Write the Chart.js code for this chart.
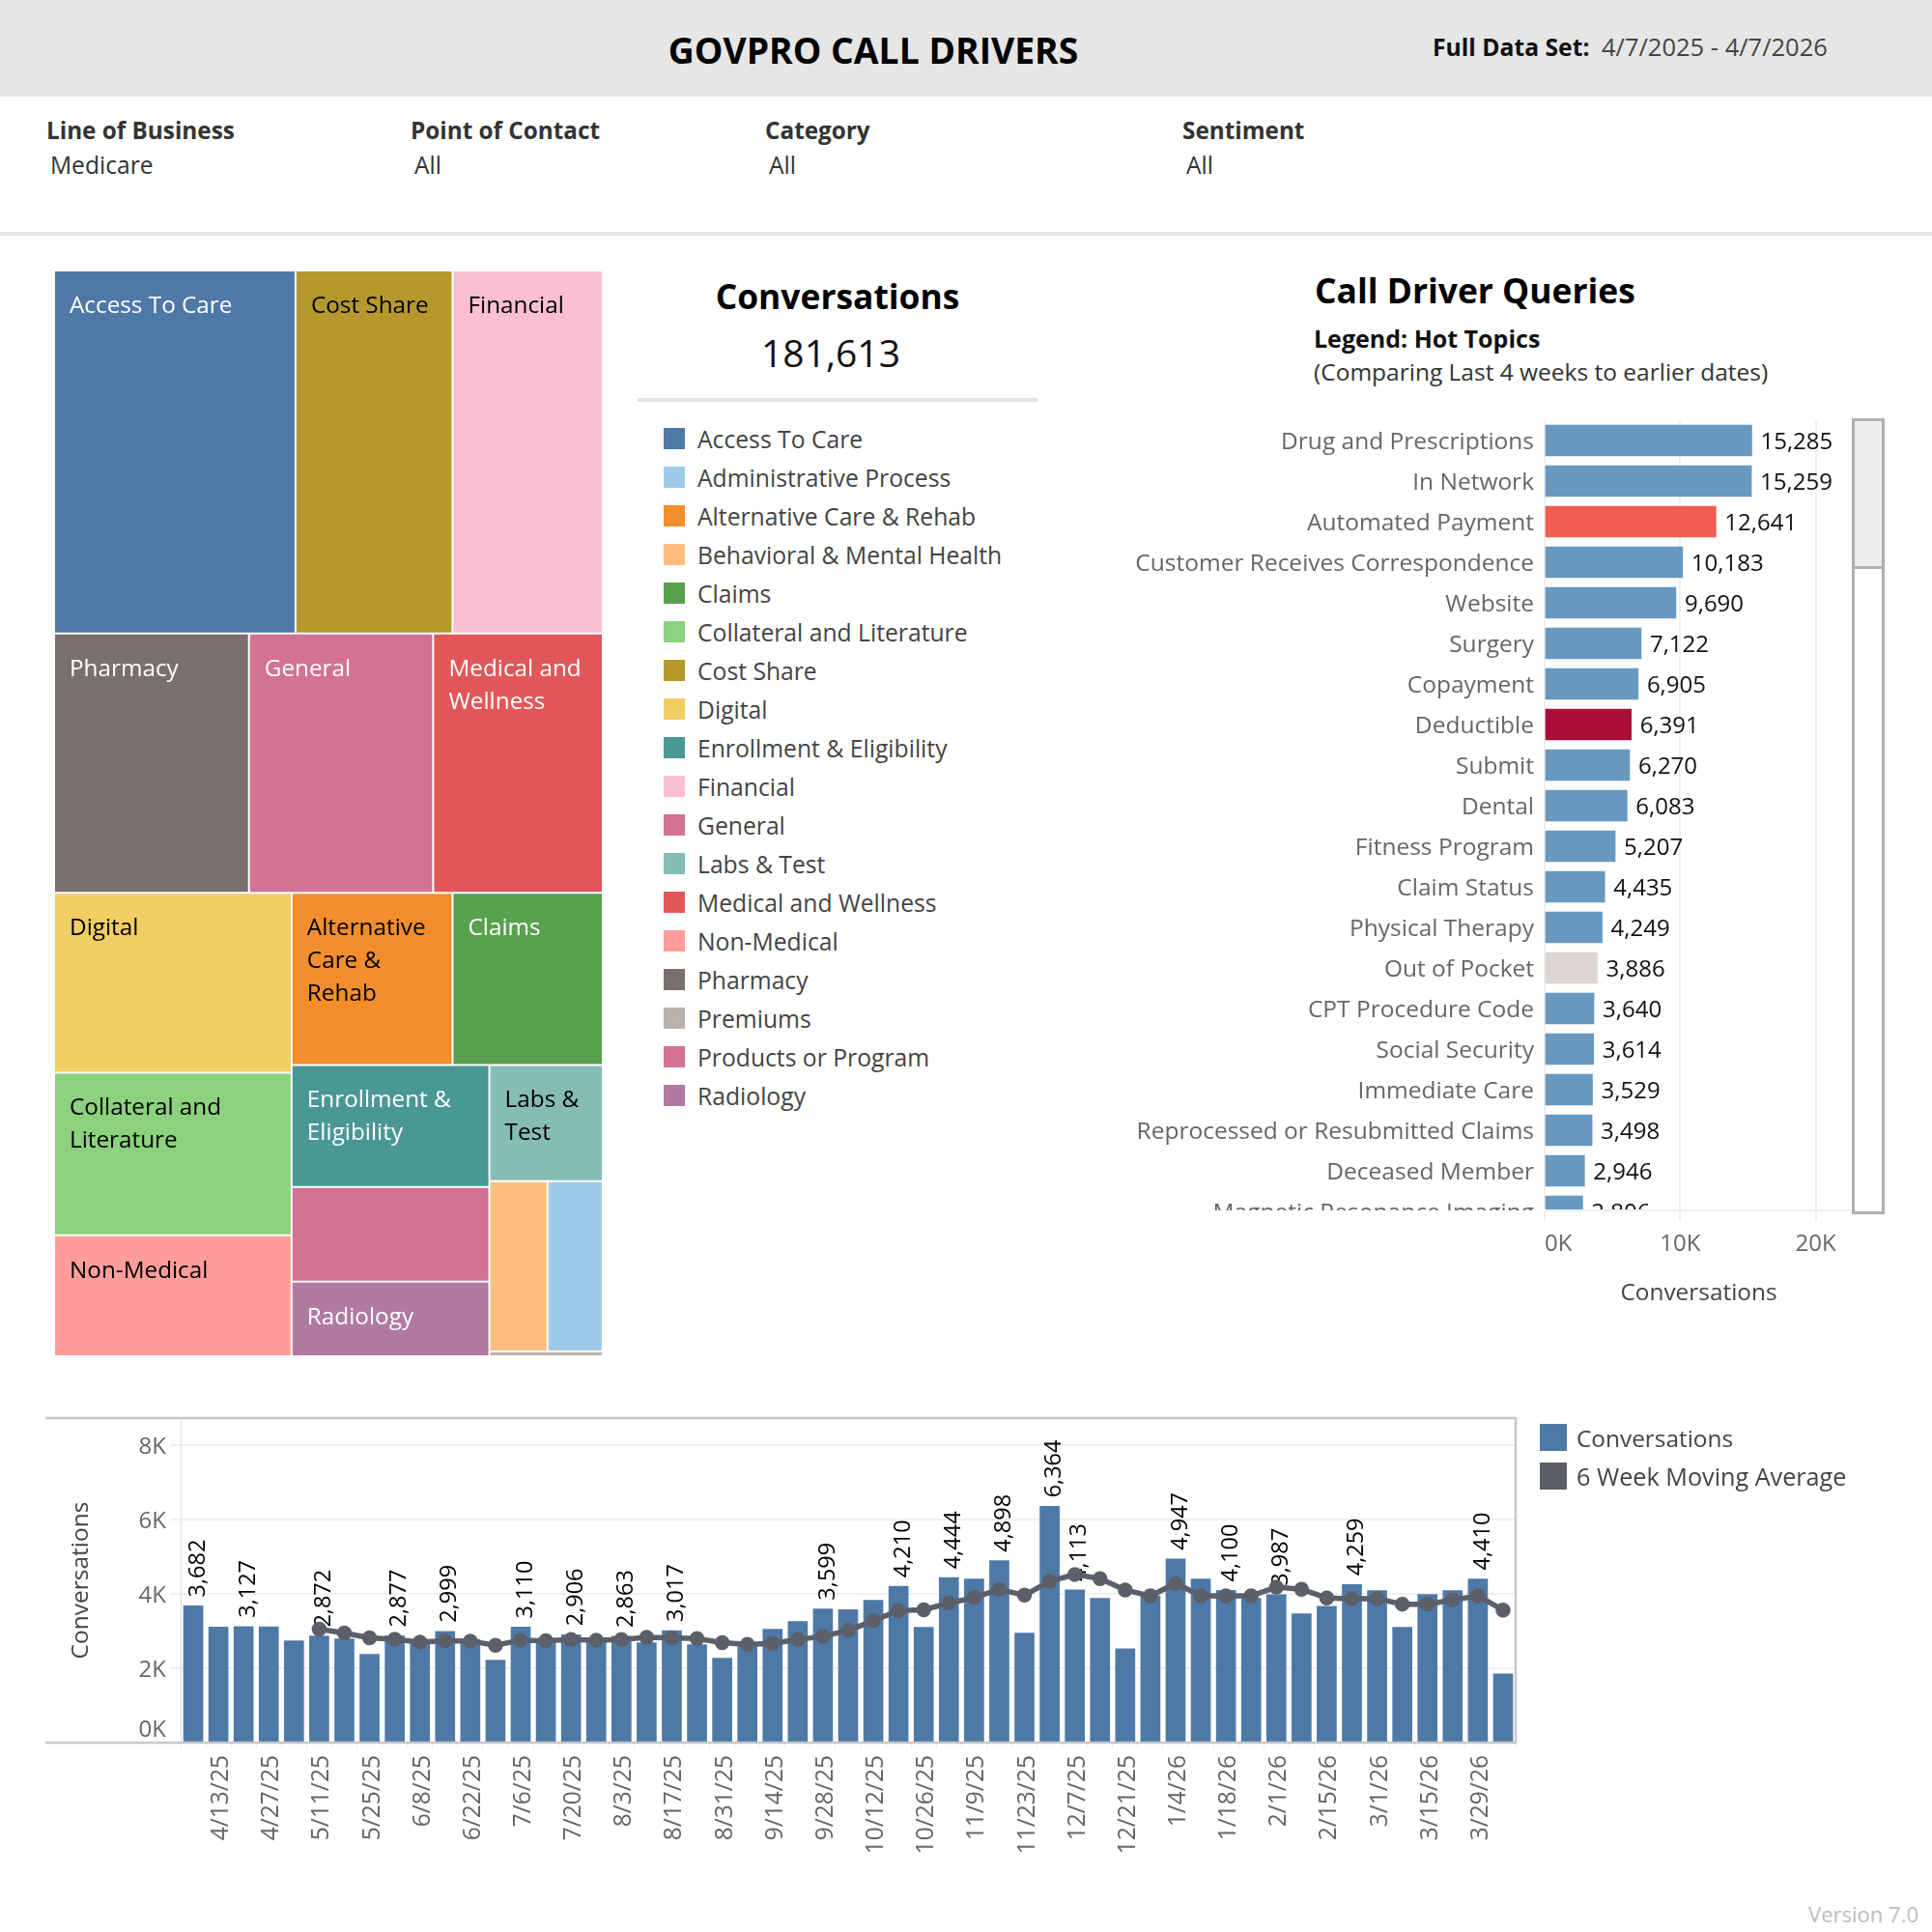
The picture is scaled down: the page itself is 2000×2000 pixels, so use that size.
<!DOCTYPE html>
<html>
<head>
<meta charset="utf-8">
<title>GovPro Call Drivers</title>
<script src="https://cdn.jsdelivr.net/npm/chart.js@4"></script>
<style>
    html, body { margin: 0; padding: 0; background: #fff; }
    body { width: 2000px; height: 2000px; position: relative; overflow: hidden; font-family: "Open Sans", sans-serif; }
    .t { position: absolute; white-space: nowrap; line-height: 1; transform: translateY(-50%); color: #333; }
    .b { font-weight: 700; }
    .box { position: absolute; }
    canvas { position: absolute; display: block; }
</style>
</head>
<body>
<div class="box" style="left:0;top:0;width:2000px;height:100px;background:#e6e6e6"></div>
<div class="t b" style="left:904px;top:52px;font-size:37.3px;color:#000;transform:translate(-50%,-50%)">GOVPRO CALL DRIVERS</div>
<div class="t b" style="left:1483px;top:49px;font-size:24.7px;color:#111">Full Data Set:</div>
<div class="t" style="left:1658px;top:49px;font-size:25.5px;color:#444">4/7/2025 - 4/7/2026</div>

<div class="t b" style="left:48px;top:135px;font-size:24.3px">Line of Business</div>
<div class="t" style="left:52px;top:171px;font-size:24.6px">Medicare</div>
<div class="t b" style="left:425px;top:135px;font-size:24.3px">Point of Contact</div>
<div class="t" style="left:429px;top:171px;font-size:24.6px">All</div>
<div class="t b" style="left:792px;top:135px;font-size:24.3px">Category</div>
<div class="t" style="left:796px;top:171px;font-size:24.6px">All</div>
<div class="t b" style="left:1224px;top:135px;font-size:24.3px">Sentiment</div>
<div class="t" style="left:1228px;top:171px;font-size:24.6px">All</div>
<div class="box" style="left:0;top:240px;width:2000px;height:4px;background:#e6e6e6"></div>

<div class="t b" style="left:867px;top:307px;font-size:35.4px;color:#000;transform:translate(-50%,-50%)">Conversations</div>
<div class="t" style="left:860px;top:364px;font-size:39px;color:#111;transform:translate(-50%,-50%)">181,613</div>
<div class="box" style="left:660px;top:412px;width:414px;height:4px;background:#e2e2e2"></div>
<div id="treeLegend"></div>

<div class="t b" style="left:1361px;top:301px;font-size:35.4px;color:#000">Call Driver Queries</div>
<div class="t b" style="left:1360px;top:350px;font-size:25px;color:#111">Legend: Hot Topics</div>
<div class="t" style="left:1360px;top:385px;font-size:24.5px">(Comparing Last 4 weeks to earlier dates)</div>

<canvas id="treeChart" style="left:56px;top:280px"></canvas>

<div class="box" style="left:1150px;top:435px;width:767px;height:818px;overflow:hidden">
    <canvas id="queryChart" style="left:0;top:0"></canvas>
</div>
<canvas id="queryAxis" style="left:1150px;top:1253px"></canvas>
<div class="box" style="left:1599px;top:1252px;width:318px;height:2px;background:#eeeeee"></div>
<div class="box" style="left:1917px;top:433px;width:28px;height:818px;border:3px solid #b0b0b0"></div>
<div class="box" style="left:1920px;top:436px;width:28px;height:150px;background:#eeeeee;border-bottom:3px solid #b0b0b0"></div>

<canvas id="weeklyChart" style="left:0;top:1440px"></canvas>
<div class="box" style="left:1594px;top:1474px;width:28px;height:28px;background:#4e79a7"></div>
<div class="t" style="left:1632px;top:1489px;font-size:24.4px;color:#444">Conversations</div>
<div class="box" style="left:1594px;top:1514px;width:28px;height:28px;background:#5b5f69"></div>
<div class="t" style="left:1632px;top:1529px;font-size:25.2px;color:#444">6 Week Moving Average</div>
<div class="t" style="right:14px;top:1981px;font-size:22px;color:#bdbdbd">Version 7.0</div>

<script>
// ==================== DATA ====================
const categories = ['Access To Care', 'Administrative Process', 'Alternative Care & Rehab', 'Behavioral & Mental Health', 'Claims', 'Collateral and Literature', 'Cost Share', 'Digital', 'Enrollment & Eligibility', 'Financial', 'General', 'Labs & Test', 'Medical and Wellness', 'Non-Medical', 'Pharmacy', 'Premiums', 'Products or Program', 'Radiology'];
const categoryValues = [26706, 2869, 8450, 3020, 7890, 11771, 17373, 13032, 7351, 16623, 14562, 4015, 13412, 8758, 15405, 167, 5717, 4492];
const categoryColors = ['#4e79a7', '#a0cbe8', '#f28e2b', '#ffbe7d', '#59a14f', '#8cd17d', '#b6992d', '#f1ce63', '#499894', '#fabfd2', '#d37295', '#86bcb6', '#e15759', '#ff9d9a', '#79706e', '#bab0ac', '#d37295', '#b07aa1'];

// nested groups, direction flips every level (rows, columns, rows...)
const treeGroups = [
    ['Access To Care', 'Cost Share', 'Financial'],
    ['Pharmacy', 'General', 'Medical and Wellness'],
    [
        ['Digital', 'Collateral and Literature', 'Non-Medical'],
        [
            ['Alternative Care & Rehab', 'Claims'],
            [
                ['Enrollment & Eligibility', 'Products or Program', 'Radiology'],
                ['Labs & Test', ['Behavioral & Mental Health', 'Administrative Process'], 'Premiums']
            ]
        ]
    ]
];
const treeLabelLines = {
    'Access To Care': ['Access To Care'],
    'Cost Share': ['Cost Share'],
    'Financial': ['Financial'],
    'Pharmacy': ['Pharmacy'],
    'General': ['General'],
    'Medical and Wellness': ['Medical and', 'Wellness'],
    'Digital': ['Digital'],
    'Alternative Care & Rehab': ['Alternative', 'Care &', 'Rehab'],
    'Claims': ['Claims'],
    'Collateral and Literature': ['Collateral and', 'Literature'],
    'Enrollment & Eligibility': ['Enrollment &', 'Eligibility'],
    'Labs & Test': ['Labs &', 'Test'],
    'Non-Medical': ['Non-Medical'],
    'Radiology': ['Radiology']
};
const darkTextCells = ['Cost Share', 'Financial', 'Digital', 'Alternative Care & Rehab', 'Collateral and Literature', 'Labs & Test', 'Non-Medical'];

const queryNames = ['Drug and Prescriptions', 'In Network', 'Automated Payment', 'Customer Receives Correspondence', 'Website', 'Surgery', 'Copayment', 'Deductible', 'Submit', 'Dental', 'Fitness Program', 'Claim Status', 'Physical Therapy', 'Out of Pocket', 'CPT Procedure Code', 'Social Security', 'Immediate Care', 'Reprocessed or Resubmitted Claims', 'Deceased Member', 'Magnetic Resonance Imaging'];
const queryValues = [15285, 15259, 12641, 10183, 9690, 7122, 6905, 6391, 6270, 6083, 5207, 4435, 4249, 3886, 3640, 3614, 3529, 3498, 2946, 2806];
const queryColors = ['#6799c1', '#6799c1', '#f25c50', '#6799c1', '#6799c1', '#6799c1', '#6799c1', '#a90e3a', '#6799c1', '#6799c1', '#6799c1', '#6799c1', '#6799c1', '#ddd4d4', '#6799c1', '#6799c1', '#6799c1', '#6799c1', '#6799c1', '#6799c1'];

const weeks = ['4/6/25', '4/13/25', '4/20/25', '4/27/25', '5/4/25', '5/11/25', '5/18/25', '5/25/25', '6/1/25', '6/8/25', '6/15/25', '6/22/25', '6/29/25', '7/6/25', '7/13/25', '7/20/25', '7/27/25', '8/3/25', '8/10/25', '8/17/25', '8/24/25', '8/31/25', '9/7/25', '9/14/25', '9/21/25', '9/28/25', '10/5/25', '10/12/25', '10/19/25', '10/26/25', '11/2/25', '11/9/25', '11/16/25', '11/23/25', '11/30/25', '12/7/25', '12/14/25', '12/21/25', '12/28/25', '1/4/26', '1/11/26', '1/18/26', '1/25/26', '2/1/26', '2/8/26', '2/15/26', '2/22/26', '3/1/26', '3/8/26', '3/15/26', '3/22/26', '3/29/26', '4/5/26'];
const weeklyConversations = [3682, 3110, 3127, 3120, 2743, 2872, 2795, 2378, 2877, 2778, 2999, 2780, 2222, 3110, 2760, 2906, 2760, 2863, 2690, 3017, 2640, 2274, 2600, 3055, 3264, 3599, 3580, 3837, 4210, 3107, 4444, 4408, 4898, 2948, 6364, 4113, 3887, 2530, 3950, 4947, 4408, 4100, 3887, 3987, 3469, 3673, 4259, 4092, 3106, 3990, 4092, 4410, 1851];
const movingAverage = [null, null, null, null, null, 3055, 2951, 2821, 2786, 2708, 2743, 2734, 2621, 2760, 2743, 2778, 2760, 2778, 2838, 2821, 2804, 2691, 2647, 2673, 2778, 2864, 3021, 3281, 3559, 3576, 3758, 3906, 4129, 3971, 4343, 4529, 4417, 4111, 3952, 4287, 3952, 3952, 3952, 4185, 4129, 3897, 3878, 3878, 3729, 3729, 3841, 3952, 3571];
const labelledWeeks = ['4/6/25', '4/20/25', '5/11/25', '6/1/25', '6/15/25', '7/6/25', '7/20/25', '8/3/25', '8/17/25', '9/28/25', '10/19/25', '11/2/25', '11/16/25', '11/30/25', '12/7/25', '1/4/26', '1/18/26', '2/1/26', '2/22/26', '3/29/26'];

// ==================== SHARED ====================
const FONT_FAMILY = '"Open Sans", sans-serif';
Chart.defaults.font.family = FONT_FAMILY;
Chart.defaults.animation = false;
Chart.defaults.responsive = false;
Chart.defaults.devicePixelRatio = 1;
Chart.defaults.plugins.legend.display = false;
Chart.defaults.plugins.tooltip.enabled = false;

function sizeCanvas(id, w, h) {
    const el = document.getElementById(id);
    el.width = w;
    el.height = h;
    return el;
}

function groupTotal(node) {
    if (typeof node === 'string') return categoryValues[categories.indexOf(node)];
    return node.reduce((sum, kid) => sum + groupTotal(kid), 0);
}

// slice the unit square by value, one direction per level
function sliceGroups(node, box, stacked, out) {
    if (typeof node === 'string') {
        out[categories.indexOf(node)] = { x0: box.x0, x1: box.x1, y0: box.y0, y1: box.y1 };
        return;
    }
    const total = groupTotal(node);
    let pos = stacked ? box.y0 : box.x0;
    node.forEach(kid => {
        const span = (stacked ? box.y1 - box.y0 : box.x1 - box.x0) * groupTotal(kid) / total;
        const next = pos + span;
        const kidBox = stacked ? { x0: box.x0, x1: box.x1, y0: pos, y1: next } : { x0: pos, x1: next, y0: box.y0, y1: box.y1 };
        sliceGroups(kid, kidBox, !stacked, out);
        pos = next;
    });
}

// ==================== TREEMAP ====================
class TreeCellController extends Chart.DatasetController {
    update(mode) {
        const meta = this._cachedMeta;
        meta.data.forEach((cell, i) => {
            const box = meta._parsed[i];
            const left = meta.xScale.getPixelForValue(box.x0) + 1;
            const right = meta.xScale.getPixelForValue(box.x1) - 1;
            this.updateElement(cell, i, {
                x: (left + right) / 2,
                y: meta.yScale.getPixelForValue(box.y0) + 1,
                base: meta.yScale.getPixelForValue(box.y1) - 1,
                width: right - left,
                horizontal: false,
                inflateAmount: 0,
                borderSkipped: { top: true, bottom: true, left: true, right: true },
                options: this.resolveDataElementOptions(i, mode)
            }, mode);
        });
    }
}
TreeCellController.id = 'treecell';
TreeCellController.defaults = { dataElementType: 'bar', datasetElementType: false };
Chart.register(TreeCellController);

const treeCellLabels = {
    id: 'treeCellLabels',
    afterDatasetsDraw(chart) {
        const { ctx } = chart;
        const cells = chart.getDatasetMeta(0).data;
        ctx.save();
        ctx.font = '24.3px ' + FONT_FAMILY;
        ctx.textBaseline = 'middle';
        ctx.textAlign = 'left';
        categories.forEach((name, i) => {
            const lines = treeLabelLines[name];
            if (!lines) return;
            const cell = cells[i];
            ctx.fillStyle = darkTextCells.includes(name) ? '#000' : '#fff';
            lines.forEach((line, n) => {
                ctx.fillText(line, cell.x - cell.width / 2 + 15, cell.y + 36 + n * 34);
            });
        });
        ctx.restore();
    }
};

const treeBoxes = [];
sliceGroups(treeGroups, { x0: 0, x1: 1, y0: 0, y1: 1 }, true, treeBoxes);

new Chart(sizeCanvas('treeChart', 568, 1124), {
    type: 'treecell',
    data: {
        labels: categories,
        datasets: [{
            data: treeBoxes,
            parsing: false,
            backgroundColor: categoryColors,
            borderWidth: 0
        }]
    },
    options: {
        layout: { padding: 0 },
        scales: {
            x: { type: 'linear', min: 0, max: 1, display: false },
            y: { type: 'linear', min: 0, max: 1, reverse: true, display: false }
        }
    },
    plugins: [treeCellLabels]
});

const legendHost = document.getElementById('treeLegend');
categories.forEach((name, i) => {
    const swatch = document.createElement('div');
    swatch.className = 'box';
    swatch.style.cssText = `left:687px;top:${443 + i * 40}px;width:22px;height:22px;background:${categoryColors[i]}`;
    const text = document.createElement('div');
    text.className = 't';
    text.style.cssText = `left:722px;top:${455 + i * 40}px;font-size:24.7px;color:#444`;
    text.textContent = name;
    legendHost.appendChild(swatch);
    legendHost.appendChild(text);
});

// ==================== CALL DRIVER QUERIES ====================
const QUERY_MAX = 22737;
const queryBarLabels = {
    id: 'queryBarLabels',
    afterDatasetsDraw(chart) {
        const { ctx } = chart;
        ctx.save();
        ctx.font = '24px ' + FONT_FAMILY;
        ctx.fillStyle = '#111';
        ctx.textBaseline = 'middle';
        ctx.textAlign = 'left';
        chart.getDatasetMeta(0).data.forEach((bar, i) => {
            ctx.fillText(queryValues[i].toLocaleString('en-US'), bar.x + 9, bar.y + 2.5);
        });
        ctx.restore();
    }
};

new Chart(sizeCanvas('queryChart', 768, 840), {
    type: 'bar',
    data: {
        labels: queryNames,
        datasets: [{
            data: queryValues,
            backgroundColor: queryColors,
            barThickness: 32
        }]
    },
    options: {
        indexAxis: 'y',
        layout: { padding: 0 },
        scales: {
            x: {
                min: 0,
                max: QUERY_MAX,
                afterBuildTicks: scale => { scale.ticks = [{ value: 0 }, { value: 10000 }, { value: 20000 }]; },
                afterFit: scale => { scale.height = 0; scale.paddingLeft = 0; scale.paddingRight = 0; },
                grid: { color: '#f0f0f0', lineWidth: 2, drawTicks: false },
                border: { display: false },
                ticks: { display: false }
            },
            y: {
                afterFit: scale => { scale.width = 449; scale.paddingTop = 0; scale.paddingBottom = 0; },
                grid: { display: false },
                border: { color: '#eeeeee', width: 1 },
                ticks: { color: '#666', font: { size: 24.5 }, padding: 3, labelOffset: 2.5, autoSkip: false }
            }
        }
    },
    plugins: [queryBarLabels]
});

new Chart(sizeCanvas('queryAxis', 768, 101), {
    type: 'bar',
    data: { labels: [''], datasets: [{ data: [0] }] },
    options: {
        indexAxis: 'y',
        layout: { padding: 0 },
        scales: {
            x: {
                min: 0,
                max: QUERY_MAX,
                afterBuildTicks: scale => { scale.ticks = [{ value: 0 }, { value: 10000 }, { value: 20000 }, { value: QUERY_MAX }]; },
                afterFit: scale => { scale.height = 100; scale.paddingLeft = 0; scale.paddingRight = 0; },
                grid: {
                    color: ctx => (ctx.index === 3 ? 'transparent' : '#f0f0f0'),
                    lineWidth: 2,
                    drawOnChartArea: false,
                    tickLength: 10
                },
                border: { display: false },
                ticks: {
                    align: 'inner',
                    color: '#666',
                    font: { size: 24 },
                    padding: 10,
                    maxRotation: 0,
                    callback: value => (value === QUERY_MAX ? '' : (value / 1000) + 'K')
                },
                title: { display: true, text: 'Conversations', color: '#444', font: { size: 24.4 }, padding: { top: 16, bottom: 0 } }
            },
            y: {
                afterFit: scale => { scale.width = 449; scale.paddingTop = 0; scale.paddingBottom = 0; },
                grid: { display: false },
                border: { display: false },
                ticks: { display: false }
            }
        }
    }
});

// ==================== WEEKLY CONVERSATIONS ====================
const weeklyBarLabels = {
    id: 'weeklyBarLabels',
    afterDatasetDraw(chart, args) {
        if (args.index !== 1) return;
        const { ctx } = chart;
        ctx.save();
        ctx.font = '23.5px ' + FONT_FAMILY;
        ctx.fillStyle = '#000';
        ctx.textBaseline = 'middle';
        ctx.textAlign = 'left';
        labelledWeeks.forEach(week => {
            const i = weeks.indexOf(week);
            const bar = args.meta.data[i];
            ctx.save();
            ctx.translate(bar.x + 5, bar.y - 9);
            ctx.rotate(-Math.PI / 2);
            ctx.fillText(weeklyConversations[i].toLocaleString('en-US'), 0, 0);
            ctx.restore();
        });
        ctx.restore();
    }
};

const weeklyFrame = {
    id: 'weeklyFrame',
    afterDraw(chart) {
        const { ctx, chartArea: area } = chart;
        ctx.save();
        ctx.strokeStyle = '#c8c8c8';
        ctx.lineWidth = 2.5;
        ctx.beginPath();
        ctx.moveTo(47, area.top);
        ctx.lineTo(area.right, area.top);
        ctx.lineTo(area.right, area.bottom);
        ctx.lineTo(47, area.bottom);
        ctx.stroke();
        ctx.restore();
    }
};

new Chart(sizeCanvas('weeklyChart', 1600, 520), {
    type: 'bar',
    data: {
        labels: weeks,
        datasets: [
            {
                type: 'line',
                label: '6 Week Moving Average',
                data: movingAverage,
                borderColor: '#5b5f69',
                backgroundColor: '#5b5f69',
                borderWidth: 5.5,
                pointRadius: 5,
                tension: 0,
                order: 0
            },
            {
                label: 'Conversations',
                data: weeklyConversations,
                backgroundColor: '#4e79a7',
                barThickness: 20,
                order: 1
            }
        ]
    },
    options: {
        layout: { padding: { top: 28, right: 31 } },
        scales: {
            x: {
                afterFit: scale => { scale.height = 156; scale.paddingLeft = 0; scale.paddingRight = 0; },
                grid: { drawOnChartArea: false, offset: true, color: '#eeeeee', tickLength: 6 },
                border: { display: false },
                ticks: {
                    autoSkip: false,
                    minRotation: 90,
                    maxRotation: 90,
                    color: '#666',
                    font: { size: 24.6 },
                    padding: 7,
                    labelOffset: 3,
                    callback: function(value, index) {
                        return index % 2 === 1 ? this.getLabelForValue(value) : '';
                    }
                }
            },
            y: {
                min: 0,
                max: 8740,
                afterBuildTicks: scale => { scale.ticks = [0, 2000, 4000, 6000, 8000].map(v => ({ value: v })); },
                afterFit: scale => { scale.width = 187; scale.paddingTop = 0; scale.paddingBottom = 0; },
                grid: { color: '#f0f0f0', lineWidth: 2, tickLength: 11 },
                border: { color: '#dddddd', width: 1 },
                ticks: {
                    color: '#666',
                    font: { size: 24 },
                    padding: 4,
                    labelOffset: 2,
                    // the 0K label sits above the axis line, the empty second line lifts it
                    callback: value => (value === 0 ? ['0K', ''] : (value / 1000) + 'K')
                },
                title: { display: true, text: 'Conversations', color: '#444', font: { size: 24.5 }, padding: { top: 69, bottom: 0 } }
            }
        }
    },
    plugins: [weeklyBarLabels, weeklyFrame]
});
</script>
</body>
</html>
